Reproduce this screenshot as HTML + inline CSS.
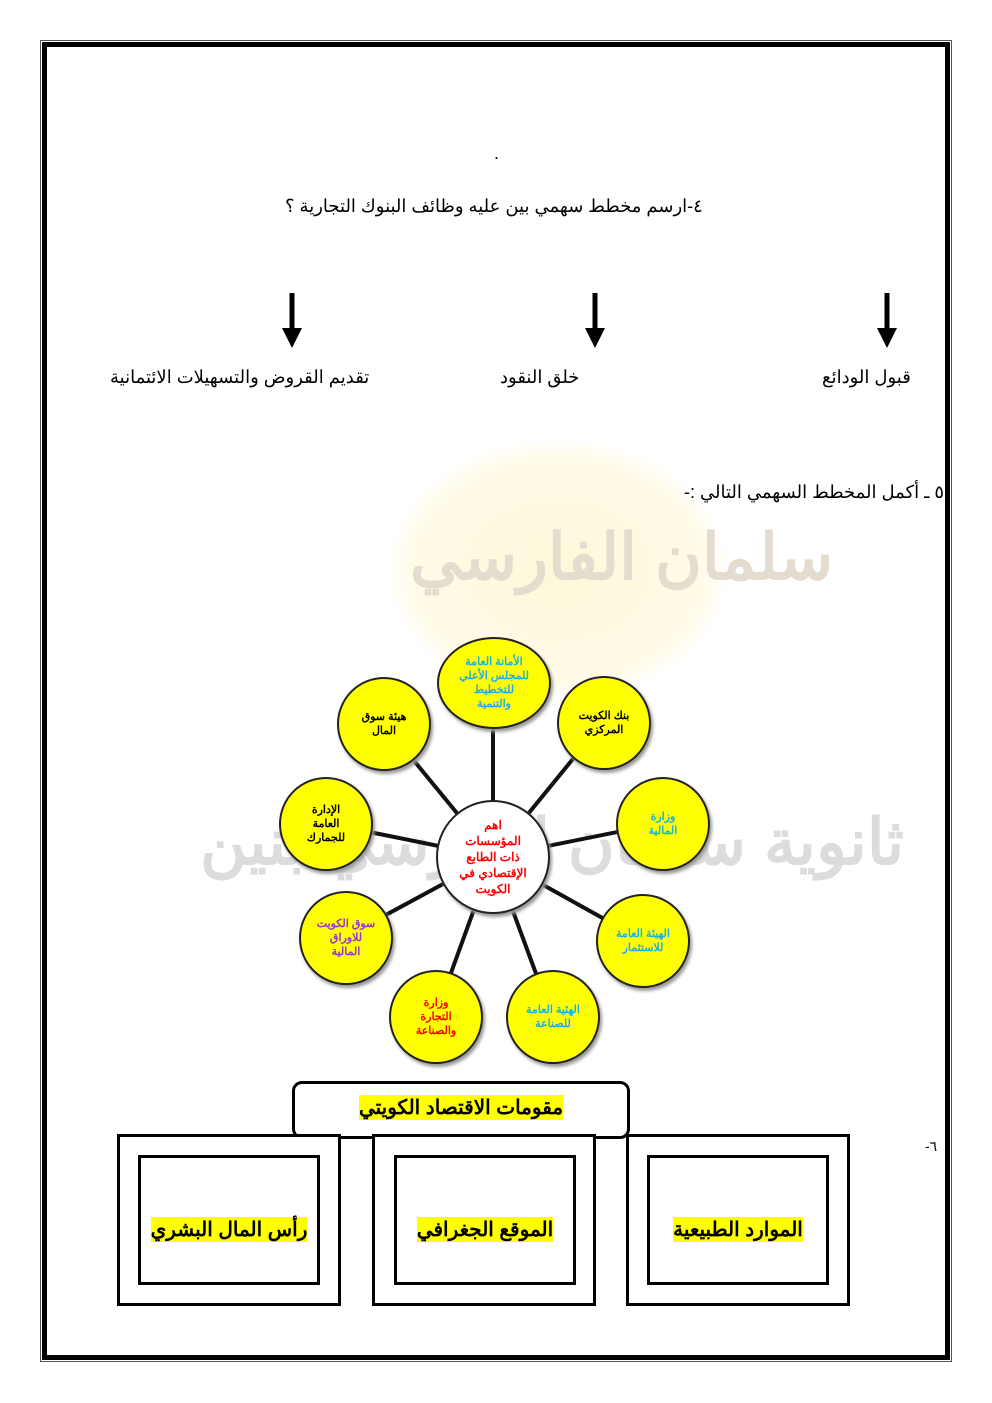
<!DOCTYPE html>
<html><head><meta charset="utf-8"><style>
body{margin:0;width:992px;height:1403px;background:#fff;position:relative;overflow:hidden;font-family:"Liberation Sans","Noto Sans CJK SC",sans-serif}
.a{position:absolute}
.t{position:absolute;direction:rtl;white-space:nowrap;font-size:18px;color:#000}
.c{position:absolute;border-radius:50%;background:#ffff00;border:2px solid #222;box-shadow:2px 3px 3px #999;display:flex;align-items:center;justify-content:center;text-align:center;font-weight:bold;font-size:11px;line-height:14px;direction:rtl}
.box{position:absolute;border:3px solid #000;background:#fff}
.hl{background:#ffff00;font-weight:bold;font-size:20px;direction:rtl;white-space:nowrap}
</style></head><body>
<div class="a" style="left:40px;top:40px;width:910px;height:1320px;border:1px solid #555"></div>
<div class="a" style="left:42px;top:42px;width:898px;height:1308px;border:5px solid #000"></div>
<div class="a" style="left:388px;top:440px;width:340px;height:260px;border-radius:50%;background:radial-gradient(#fdf8d8,#fffbe8 60%,rgba(255,255,255,0) 72%)"></div>
<div class="t" style="left:410px;top:520px;font-size:64px;color:#e4dccf;font-weight:bold">سلمان الفارسي</div>
<div class="t" style="left:200px;top:805px;font-size:64px;color:#dcdcdc;font-weight:bold">ثانوية سلمان الفارسي بنين</div>
<div class="t" style="left:494px;top:143px">.</div>
<div class="t" style="left:285px;top:196px">٤-ارسم مخطط سهمي بين عليه وظائف البنوك التجارية ؟</div>
<svg class="a" style="left:0;top:0" width="992" height="1403">
<g stroke="#000" stroke-width="5"><line x1="292" y1="293" x2="292" y2="330"/><line x1="595" y1="293" x2="595" y2="330"/><line x1="887" y1="293" x2="887" y2="330"/></g>
<g fill="#000"><polygon points="282,328 302,328 292,348"/><polygon points="585,328 605,328 595,348"/><polygon points="877,328 897,328 887,348"/></g>
<g stroke="#111" stroke-width="4">
<line x1="493" y1="857" x2="493" y2="727"/><line x1="493" y1="857" x2="603" y2="722"/><line x1="493" y1="857" x2="383" y2="723"/>
<line x1="493" y1="857" x2="325" y2="823"/><line x1="493" y1="857" x2="662" y2="823"/><line x1="493" y1="857" x2="642" y2="940"/>
<line x1="493" y1="857" x2="552" y2="1017"/><line x1="493" y1="857" x2="435" y2="1017"/><line x1="493" y1="857" x2="345" y2="937"/>
</g>
</svg>
<div class="t" style="left:110px;top:367px">تقديم القروض والتسهيلات الائتمانية</div>
<div class="t" style="left:500px;top:367px">خلق النقود</div>
<div class="t" style="left:822px;top:367px">قبول الودائع</div>
<div class="t" style="left:684px;top:482px">٥ ـ أكمل المخطط السهمي التالي :-</div>
<div class="c" style="left:436px;top:800px;width:110px;height:110px;background:#fff;color:#f00;font-size:12px;line-height:16px">اهم<br>المؤسسات<br>ذات الطابع<br>الإقتصادي في<br>الكويت</div>
<div class="c" style="left:437px;top:637px;width:110px;height:88px;color:#1ab0e8">الأمانة العامة<br>للمجلس الأعلي<br>للتخطيط<br>والتنمية</div>
<div class="c" style="left:557px;top:676px;width:90px;height:90px;color:#000">بنك الكويت<br>المركزي</div>
<div class="c" style="left:337px;top:677px;width:90px;height:90px;color:#000">هيئة سوق<br>المال</div>
<div class="c" style="left:279px;top:777px;width:90px;height:90px;color:#000">الإدارة<br>العامة<br>للجمارك</div>
<div class="c" style="left:616px;top:777px;width:90px;height:90px;color:#1ab0e8">وزارة<br>المالية</div>
<div class="c" style="left:596px;top:894px;width:90px;height:90px;color:#1ab0e8">الهيئة العامة<br>للاستثمار</div>
<div class="c" style="left:506px;top:970px;width:90px;height:90px;color:#1ab0e8">الهئية العامة<br>للصناعة</div>
<div class="c" style="left:389px;top:970px;width:90px;height:90px;color:#f00">وزارة<br>التجارة<br>والصناعة</div>
<div class="c" style="left:299px;top:891px;width:90px;height:90px;color:#9933cc">سوق الكويت<br>للاوراق<br>المالية</div>
<div class="a" style="left:292px;top:1081px;width:332px;height:52px;border:3px solid #000;border-radius:10px;background:#fff;display:flex;justify-content:center;align-items:flex-start;padding-top:0"><span class="hl" style="margin-top:11px">مقومات الاقتصاد الكويتي</span></div>
<div class="box" style="left:117px;top:1134px;width:218px;height:166px"></div>
<div class="box" style="left:138px;top:1155px;width:176px;height:124px;display:flex;align-items:center;justify-content:center"><span class="hl" style="margin-top:18px">رأس المال البشري</span></div>
<div class="box" style="left:372px;top:1134px;width:218px;height:166px"></div>
<div class="box" style="left:394px;top:1155px;width:176px;height:124px;display:flex;align-items:center;justify-content:center"><span class="hl" style="margin-top:18px">الموقع الجغرافي</span></div>
<div class="box" style="left:626px;top:1134px;width:218px;height:166px"></div>
<div class="box" style="left:647px;top:1155px;width:176px;height:124px;display:flex;align-items:center;justify-content:center"><span class="hl" style="margin-top:18px">الموارد الطبيعية</span></div>
<div class="t" style="left:925px;top:1138px;font-size:14px">٦-</div>
</body></html>
